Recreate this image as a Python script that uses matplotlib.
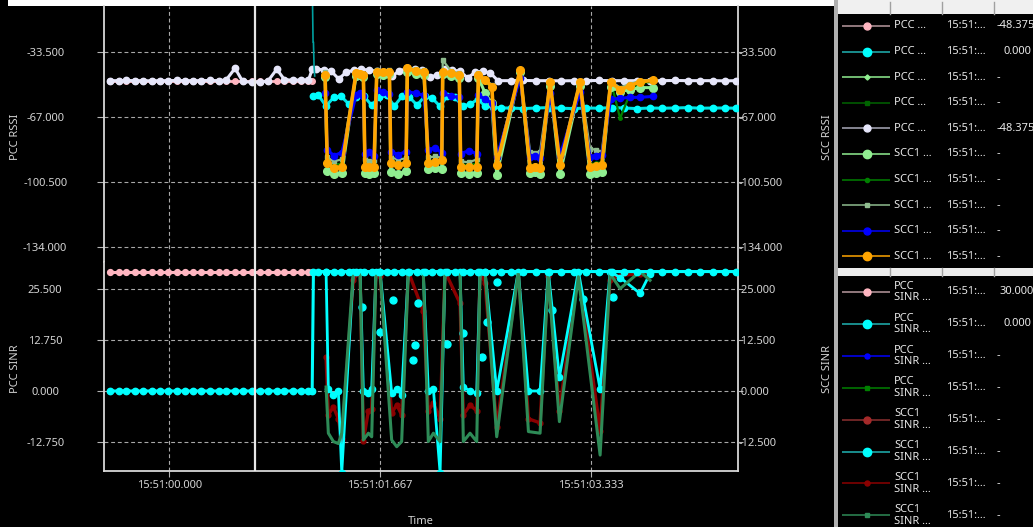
import matplotlib
matplotlib.use("Agg")
import matplotlib.pyplot as plt

plt.rcParams['font.family'] = ['Noto Sans', 'DejaVu Sans']
plt.rcParams['axes.unicode_minus'] = False

# ---------------- data (seconds after 15:51:00) ----------------
x_ticks = [0.0, 1.667, 3.333]
x_tick_labels = ["15:51:00.000", "15:51:01.667", "15:51:03.333"]
rssi_ticks = [-33.5, -67.0, -100.5, -134.0]
rssi_tick_labels = ["-33.500", "-67.000", "-100.500", "-134.000"]
scc_rssi_tick_labels = ["-33.500", "-67.000", "-100.500", "-134.000"]
sinr_ticks = [25.5, 12.75, 0.0, -12.75]
sinr_tick_labels = ["25.500", "12.750", "0.000", "-12.750"]
scc_sinr_ticks = [25.0, 12.5, 0.0, -12.5]
scc_sinr_tick_labels = [" 25.000", " 12.500", " 0.000", "-12.500"]
cursor_t = 0.678

# samples before the carrier switch
t_pre = [-0.47, -0.40, -0.34, -0.27, -0.21, -0.14, -0.07, -0.01, 0.06, 0.12,
         0.19, 0.25, 0.32, 0.39, 0.45, 0.52, 0.58, 0.65, 0.72, 0.78,
         0.85, 0.91, 0.98, 1.04, 1.10, 1.13]
pcc_rssi_pre = [-48.375, -48.375, -48.375, -48.375, -48.375, -48.375, -48.375, -48.375, -48.375, -48.375,
                -48.375, -48.375, -48.375, -48.375, -48.375, -48.375, -48.375, -48.375, -48.375, -48.375,
                -48.375, -48.375, -48.375, -48.375, -48.375, -48.375]
lav_pre = [-48.4, -48.4, -48.3, -48.4, -48.4, -48.5, -48.4, -48.4, -48.3, -48.4,
           -48.4, -48.4, -48.3, -48.4, -48.0, -42.0, -48.8, -49.2, -49.0, -48.6,
           -42.5, -47.8, -48.2, -48.0, -48.3, -42.5]
pcc_sinr_pink = [30.0, 30.0, 30.0, 30.0, 30.0, 30.0, 30.0, 30.0, 30.0, 30.0,
                 30.0, 30.0, 30.0, 30.0, 30.0, 30.0, 30.0, 30.0, 30.0, 30.0,
                 30.0, 30.0, 30.0, 30.0, 30.0, 30.0]
pcc_sinr_cyan_pre = [0.0, 0.0, 0.0, 0.0, 0.0, 0.0, 0.0, 0.0, 0.0, 0.0,
                     0.0, 0.0, 0.0, 0.0, 0.0, 0.0, 0.0, 0.0, 0.0, 0.0,
                     0.0, 0.0, 0.0, 0.0, 0.0, 0.0]

# lavender PCC RSSI after the switch
lav_post_t = [1.16, 1.22, 1.28, 1.34, 1.40, 1.46, 1.52, 1.58, 1.64, 1.70,
              1.76, 1.82, 1.88, 1.94, 2.00, 2.06, 2.12, 2.18, 2.24, 2.30,
              2.36, 2.42, 2.48, 2.54, 2.60, 2.70, 2.80, 2.90, 3.00, 3.10,
              3.20, 3.30, 3.40, 3.50, 3.60, 3.70, 3.80, 3.90, 4.00, 4.10,
              4.20, 4.30, 4.40, 4.48]
lav_post = [-42.5, -42.8, -43.5, -47.5, -44.0, -43.0, -42.5, -43.0, -43.5, -44.0,
            -46.0, -43.5, -42.0, -42.5, -43.0, -46.5, -45.5, -42.5, -43.0, -43.5,
            -47.0, -44.0, -43.5, -44.5, -48.4, -48.4, -48.3, -48.4, -48.4, -48.5,
            -48.4, -48.4, -48.3, -48.4, -48.4, -48.4, -48.5, -48.4, -48.3, -48.4,
            -48.4, -48.4, -48.5, -48.4]

# cyan PCC series after the switch
t_post = [1.14, 1.18, 1.24, 1.30, 1.36, 1.42, 1.48, 1.54, 1.60, 1.66,
          1.72, 1.78, 1.84, 1.90, 1.96, 2.02, 2.08, 2.14, 2.20, 2.26,
          2.32, 2.38, 2.44, 2.50, 2.56, 2.62, 2.70, 2.80, 2.90, 3.00,
          3.10, 3.20, 3.30, 3.40, 3.50, 3.60, 3.70, 3.80, 3.90, 4.00,
          4.10, 4.20, 4.30, 4.40, 4.48]
cyan_rssi_post = [-56.5, -56.0, -61.5, -57.0, -56.5, -60.5, -57.0, -56.5, -61.0, -57.0,
                  -56.0, -61.5, -56.5, -57.0, -61.0, -56.5, -57.5, -61.5, -56.5, -57.0,
                  -61.5, -60.5, -58.0, -61.5, -62.0, -62.5, -62.5, -62.8, -62.5, -62.3,
                  -62.6, -62.8, -62.5, -62.6, -62.3, -62.5, -62.8, -62.5, -62.6, -62.5,
                  -62.3, -62.6, -62.5, -62.5, -62.6]
pcc_sinr_cyan_post = [30.0, 30.0, 30.0, 30.0, 30.0, 30.0, 30.0, 30.0, 30.0, 30.0,
                      30.0, 30.0, 30.0, 30.0, 30.0, 30.0, 30.0, 30.0, 30.0, 30.0,
                      30.0, 30.0, 30.0, 30.0, 30.0, 30.0, 30.0, 30.0, 30.0, 30.0,
                      30.0, 30.0, 30.0, 30.0, 30.0, 30.0, 30.0, 30.0, 30.0, 30.0,
                      30.0, 30.0, 30.0, 30.0, 30.0]

# teal trace entering from above
teal_t = [1.130, 1.137, 1.140, 1.145, 1.150]
teal_v = [5.0, -28.5, -28.5, -41.0, -46.0]

# SCC1 RSSI bursts
t_burst = [1.232, 1.250, 1.300, 1.364, 1.477, 1.505, 1.535, 1.548, 1.580, 1.619,
           1.641, 1.690, 1.741, 1.752, 1.810, 1.873, 1.883, 1.950, 2.015, 2.049,
           2.100, 2.155, 2.163, 2.230, 2.294, 2.305, 2.370, 2.432, 2.445, 2.500,
           2.551, 2.590, 2.775, 2.854, 2.893, 2.933, 3.012, 3.091, 3.249, 3.328,
           3.375, 3.421, 3.492, 3.566, 3.645, 3.724, 3.829]
scc_orange = [-45.5, -91.0, -93.5, -92.8, -44.5, -45.0, -45.5, -92.8, -93.0, -92.8,
              -43.8, -44.0, -43.8, -91.0, -92.0, -91.0, -42.0, -43.5, -43.8, -91.0,
              -90.5, -89.5, -43.8, -44.5, -45.5, -92.8, -93.0, -92.8, -45.5, -48.0,
              -51.5, -92.0, -42.9, -93.5, -93.0, -93.5, -49.0, -92.0, -49.0, -92.8,
              -92.5, -92.0, -49.0, -53.2, -51.0, -49.0, -48.2]
scc_lightgreen = [-46.5, -95.0, -96.5, -96.0, -46.0, -45.5, -46.5, -96.0, -96.5, -96.0,
                  -45.0, -45.5, -45.0, -95.5, -96.5, -95.0, -44.0, -45.0, -45.5, -94.0,
                  -93.5, -94.0, -45.0, -46.0, -47.0, -96.0, -96.5, -96.0, -47.0, -55.0,
                  -60.0, -97.0, -44.0, -96.0, -95.5, -96.5, -51.0, -96.5, -51.0, -96.5,
                  -96.0, -95.5, -51.5, -54.0, -53.0, -52.0, -52.0]
scc_blue = [-55.0, -84.0, -87.0, -85.5, -56.0, -55.0, -56.5, -86.0, -85.0, -87.0,
            -53.0, -54.5, -55.5, -85.0, -86.5, -85.0, -54.0, -55.0, -56.0, -84.0,
            -83.0, -85.5, -55.0, -56.5, -57.0, -86.0, -84.5, -86.0, -56.0, -58.0,
            -60.0, -88.0, -47.0, -88.0, -87.5, -88.5, -55.0, -87.0, -54.0, -88.0,
            -87.0, -86.5, -58.0, -57.5, -57.0, -57.0, -56.5]
scc_seagray = [-44.0, -88.0, -90.0, -89.0, -44.0, -44.5, -45.0, -89.0, -90.0, -89.5,
               -43.0, -43.5, -43.0, -88.0, -89.0, -88.5, -41.5, -42.5, -43.0, -88.0,
               -87.5, -88.0, -37.8, -43.5, -44.5, -90.0, -90.5, -89.0, -44.5, -48.0,
               -50.5, -89.0, -43.5, -85.0, -85.5, -85.0, -48.5, -90.0, -48.5, -83.5,
               -84.0, -85.0, -48.5, -52.0, -50.0, -48.5, -48.0]
scc_darkgreen = [-45.0, -90.0, -92.0, -91.0, -45.0, -45.5, -46.0, -91.0, -92.0, -91.5,
                 -44.0, -44.5, -44.0, -90.0, -91.0, -90.5, -43.0, -43.5, -44.0, -90.0,
                 -89.5, -90.0, -44.0, -44.5, -45.5, -91.5, -92.0, -91.0, -45.5, -49.0,
                 -52.0, -91.0, -43.5, -92.0, -92.0, -92.5, -49.5, -91.0, -49.5, -91.5,
                 -91.0, -90.5, -48.5, -67.8, -55.0, -49.5, -49.0]

# SCC1 SINR bursts
t_sinr = [1.240, 1.258, 1.298, 1.337, 1.364, 1.456, 1.509, 1.535, 1.575, 1.601,
          1.635, 1.667, 1.759, 1.799, 1.838, 1.891, 2.009, 2.049, 2.089, 2.142,
          2.181, 2.300, 2.326, 2.379, 2.432, 2.458, 2.498, 2.590, 2.761, 2.841,
          2.933, 2.998, 3.086, 3.236, 3.408, 3.487, 3.566, 3.724, 3.803]
sinr_seagreen = [1.0, -10.6, -12.7, -13.2, -10.6, 30.0, 30.0, -12.3, -10.6, -11.5,
                 30.0, 30.0, -12.3, -14.0, -12.7, 30.0, 30.0, -12.7, -10.6, -12.7,
                 30.0, 30.0, -12.7, -10.6, -12.7, 30.0, 30.0, -11.5, 30.0, -10.2,
                 -10.6, 28.7, -7.7, 28.7, -16.1, 29.5, 25.7, 30.0, 27.8]
sinr_darkred = [8.5, -6.0, -4.0, -7.0, -12.0, 28.0, 30.0, -12.5, -5.0, -4.5,
                30.0, 29.0, -5.5, -3.5, -6.0, 30.0, 20.0, -5.0, -3.0, -7.0,
                30.0, 22.0, -6.0, -3.5, -5.0, 30.0, 27.0, -9.0, 30.0, -7.0,
                -8.0, 29.0, -5.0, 30.0, -10.0, 28.0, 29.0, 29.5, 30.0]
sinr_cyan = [30.0, 0.5, -1.0, 0.0, -20.5, 30.0, 30.0, 0.0, -0.5, 0.5,
             30.0, 30.0, -0.5, 0.5, -1.0, 30.0, 30.0, 0.0, 0.5, -20.5,
             30.0, 30.0, 1.0, 0.0, -0.5, 30.0, 30.0, 0.0, 30.0, 0.0,
             0.0, 30.0, 3.5, 30.0, 0.5, 30.0, 28.5, 24.5, 29.5]
cyan_dots_t = [1.522, 1.667, 1.772, 1.930, 1.944, 1.970, 2.194, 2.326, 2.471, 2.511,
               2.590, 3.025, 3.275, 3.513]
cyan_dots_v = [21.1, 14.9, 22.8, 7.8, 11.5, 22.0, 11.9, 14.5, 8.6, 17.4,
               27.4, 20.3, 23.2, 23.6]

# side tables
time_cell = "15:51:..."
rssi_rows = ["PCC ...", "PCC ...", "PCC ...", "PCC ...", "PCC ...",
             "SCC1 ...", "SCC1 ...", "SCC1 ...", "SCC1 ...", "SCC1 ..."]
rssi_vals = ["-48.375", "0.000", "-", "-", "-48.375", "-", "-", "-", "-", "-"]
rssi_line_colors = ["#b8999f", "#20b4b4", "#90ee90", "#006400", "#a9a9b9",
                    "#90ee90", "#008000", "#8fbc8f", "#0000ff", "#ffa500"]
rssi_marker_colors = ["#ffb6c1", "#00ffff", "#90ee90", "#006400", "#e6e6fa",
                      "#90ee90", "#008000", "#8fbc8f", "#0000ff", "#ffa500"]
rssi_markers = ["o", "o", "D", "s", "o", "o", "o", "s", "o", "o"]
rssi_msizes = [5.0, 6.0, 2.6, 3.0, 5.0, 6.0, 3.0, 3.0, 5.0, 6.0]

sinr_rows = ["PCC\nSINR ...", "PCC\nSINR ...", "PCC\nSINR ...", "PCC\nSINR ...",
             "SCC1\nSINR ...", "SCC1\nSINR ...", "SCC1\nSINR ...", "SCC1\nSINR ..."]
sinr_vals = ["30.000", "0.000", "-", "-", "-", "-", "-", "-"]
sinr_line_colors = ["#b8999f", "#20b4b4", "#0000ff", "#008000",
                    "#8b3030", "#20b4b4", "#8b0000", "#2e8b57"]
sinr_marker_colors = ["#ffb6c1", "#00ffff", "#0000ff", "#008000",
                      "#a52a2a", "#00ffff", "#8b0000", "#2e8b57"]
sinr_markers = ["o", "o", "o", "s", "o", "o", "o", "s"]
sinr_msizes = [5.0, 6.0, 3.6, 3.0, 5.0, 6.0, 3.6, 3.0]

# ---------------- figure ----------------
W, H = 1033, 527
fig = plt.figure(figsize=(W / 100, H / 100), dpi=100, facecolor="black")


def fx(px):
    return px / W


def fy(py):
    return 1 - py / H


LEFT, RIGHT, TOP, MID, BOTTOM = 104, 738, 6, 262, 471
ax1 = fig.add_axes([fx(LEFT), fy(MID), fx(RIGHT) - fx(LEFT), fy(TOP) - fy(MID)])
ax2 = fig.add_axes([fx(LEFT), fy(BOTTOM), fx(RIGHT) - fx(LEFT), fy(MID) - fy(BOTTOM)],
                   sharex=ax1)

TICK_C = "#b4b4b4"
LABEL_C = "#d4d4d4"
SPINE_C = "#d8d8d8"
FS = 8

ax1.set_xlim(-0.517, 4.499)
ax1.set_ylim(-141.9, -9.9)
ax2.set_ylim(-20.1, 32.4)

for ax in (ax1, ax2):
    ax.set_facecolor("black")
    for s in ax.spines.values():
        s.set_visible(False)
    for side in ("left", "right"):
        ax.spines[side].set_visible(True)
        ax.spines[side].set_color(SPINE_C)
        ax.spines[side].set_linewidth(1.3)
    ax.grid(True, color="#a8a8a8", linestyle=(0, (3.5, 2.5)), linewidth=0.8)
    ax.set_axisbelow(True)

ax2.spines["bottom"].set_visible(True)
ax2.spines["bottom"].set_color(SPINE_C)
ax2.spines["bottom"].set_linewidth(1.3)

ax1.set_yticks(rssi_ticks, rssi_tick_labels)
ax2.set_yticks(sinr_ticks, sinr_tick_labels)
ax2.set_xticks(x_ticks, x_tick_labels)

for ax in (ax1, ax2):
    ax.tick_params(axis="y", length=5, width=0.8, color=TICK_C, labelcolor=LABEL_C,
                   labelsize=FS, pad=37.4)
    plt.setp(ax.get_yticklabels(), ha="center")
ax1.tick_params(axis="x", length=0, labelbottom=False)
ax2.tick_params(axis="x", length=4.5, width=0.8, color=TICK_C, labelcolor=LABEL_C,
                labelsize=FS, pad=2)

# right-hand axes
ax1r = ax1.twinx()
ax1r.set_ylim(ax1.get_ylim())
ax1r.set_yticks(rssi_ticks, scc_rssi_tick_labels)
ax2r = ax2.twinx()
scale = scc_sinr_ticks[0] / sinr_ticks[0]
lo, hi = ax2.get_ylim()
ax2r.set_ylim(lo * scale, hi * scale)
ax2r.set_yticks(scc_sinr_ticks, scc_sinr_tick_labels)
for axr in (ax1r, ax2r):
    for s in axr.spines.values():
        s.set_visible(False)
    axr.tick_params(axis="y", length=3.6, width=0.8, color=TICK_C, labelcolor=LABEL_C,
                    labelsize=FS, pad=-3.4)

# ---------------- RSSI panel ----------------
ax1.plot(t_pre, pcc_rssi_pre, color="#ffb6c1", lw=2, marker="o", ms=4, zorder=2)
ax1.plot(t_post, cyan_rssi_post, color="#00e5e5", lw=2.2, marker="o", ms=4.6,
         mfc="#00ffff", mec="#00ffff", zorder=3)
ax1.plot(t_pre + lav_post_t, lav_pre + lav_post, color="#e6e6fa", lw=2.2,
         marker="o", ms=4.6, zorder=4)
ax1.plot(teal_t, teal_v, color="#00a0a0", lw=1.2, zorder=4)
ax1.plot(t_burst, scc_darkgreen, color="#008000", lw=1.6, marker="o", ms=2.5, zorder=5)
ax1.plot(t_burst, scc_seagray, color="#8fbc8f", lw=1.6, marker="s", ms=2.8, zorder=5)
ax1.plot(t_burst, scc_lightgreen, color="#90ee90", lw=2.2, marker="o", ms=5.5, zorder=6)
ax1.plot(t_burst, scc_blue, color="#0000ff", lw=2.2, marker="o", ms=4.5, zorder=7)
ax1.plot(t_burst, scc_orange, color="#ffa500", lw=2.6, marker="o", ms=5.5, zorder=8)

# ---------------- SINR panel ----------------
ax2.plot(t_pre, pcc_sinr_pink, color="#ffb6c1", lw=2.2, marker="o", ms=4.2, zorder=3)
ax2.plot(t_sinr, sinr_darkred, color="#8b0000", lw=2.4, marker="o", ms=3.5, zorder=4)
ax2.plot(t_sinr, sinr_cyan, color="#00ffff", lw=2.0, marker="o", ms=4.5, zorder=5)
ax2.plot(cyan_dots_t, cyan_dots_v, ls="none", marker="o", ms=5, color="#00ffff", zorder=5)
ax2.plot(t_sinr, sinr_seagreen, color="#2e8b57", lw=2.2, zorder=6)
ax2.plot(t_pre + t_post, pcc_sinr_cyan_pre + pcc_sinr_cyan_post, color="#00ffff",
         lw=2.2, marker="o", ms=4.6, zorder=7)

for ax in (ax1, ax2):
    ax.axvline(cursor_t, color="#e8e8e8", lw=1.6, zorder=9)

# ---------------- labels ----------------
fig.text(fx(16), fy(137), "PCC RSSI", rotation=90, ha="center", va="center",
         color=LABEL_C, fontsize=FS)
fig.text(fx(16), fy(369), "PCC SINR", rotation=90, ha="center", va="center",
         color=LABEL_C, fontsize=FS)
fig.text(fx(827), fy(137), "SCC RSSI", rotation=90, ha="center", va="center",
         color=LABEL_C, fontsize=FS)
fig.text(fx(827), fy(369), "SCC SINR", rotation=90, ha="center", va="center",
         color=LABEL_C, fontsize=FS)
fig.text(fx(421), fy(516), "Time", ha="center", va="top", color=LABEL_C, fontsize=FS)

# ---------------- side tables ----------------
axo = fig.add_axes([0, 0, 1, 1], zorder=-1)
axo.set_xlim(0, W)
axo.set_ylim(H, 0)
axo.axis("off")

axo.add_patch(plt.Rectangle((8, 0), 826, 6, color="white", lw=0))
axo.add_patch(plt.Rectangle((834, 0), 4, H, color="#b0b0b0", lw=0))
axo.add_patch(plt.Rectangle((838, 0), W - 838, 14, color="#f0f0f0", lw=0))
axo.add_patch(plt.Rectangle((838, 268), W - 838, 8, color="#ececec", lw=0))
for sep in (890, 942, 994):
    axo.plot([sep, sep], [2, 14], color="#a0a0a0", lw=1)
    axo.plot([sep, sep], [268, 276], color="#a0a0a0", lw=1)

TXT_C = "#e8e8e8"
for i in range(len(rssi_rows)):
    y = 26 + 25.6 * i
    axo.plot([842, 890], [y, y], color=rssi_line_colors[i], lw=1.1, solid_capstyle="butt")
    axo.plot([867], [y], marker=rssi_markers[i], ms=rssi_msizes[i],
             color=rssi_marker_colors[i], mec=rssi_marker_colors[i])
    axo.text(894, y, rssi_rows[i], va="center", ha="left", color=TXT_C, fontsize=FS)
    axo.text(946, y, time_cell, va="center", ha="left", color=TXT_C, fontsize=FS)
    vx = 1003 if rssi_vals[i] == "0.000" else 997
    axo.text(vx, y, rssi_vals[i], va="center", ha="left", color=TXT_C, fontsize=FS)

for i in range(len(sinr_rows)):
    y = 292 + 31.9 * i
    axo.plot([842, 890], [y, y], color=sinr_line_colors[i], lw=1.1, solid_capstyle="butt")
    axo.plot([867], [y], marker=sinr_markers[i], ms=sinr_msizes[i],
             color=sinr_marker_colors[i], mec=sinr_marker_colors[i])
    axo.text(894, y, sinr_rows[i], va="center", ha="left", color=TXT_C, fontsize=FS,
             linespacing=1.05)
    axo.text(946, y, time_cell, va="center", ha="left", color=TXT_C, fontsize=FS)
    vx = {"30.000": 999, "0.000": 1003}.get(sinr_vals[i], 997)
    axo.text(vx, y, sinr_vals[i], va="center", ha="left", color=TXT_C, fontsize=FS)

fig.savefig("out.png", dpi=100, facecolor="black")
